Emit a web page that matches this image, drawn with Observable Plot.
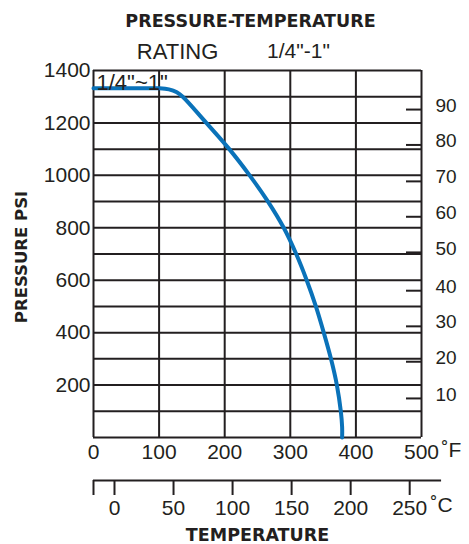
<!DOCTYPE html>
<html><head><meta charset="utf-8">
<script src="https://cdn.jsdelivr.net/npm/d3@7"></script>
<script src="https://cdn.jsdelivr.net/npm/@observablehq/plot@0.6"></script>
<style>body{margin:0;background:#fff}</style>
</head><body><div id="chart"></div>
<script>
// Rating curve (°F, psi)
const tempF       = [0,    50,   100,  115,  127,  136,  172,  207,  238,  266, 290, 309, 325, 339, 351, 362, 371, 377, 379, 379];
const pressurePsi = [1332, 1332, 1332, 1328, 1317, 1300, 1200, 1100, 1000, 900, 800, 700, 600, 500, 400, 300, 200, 100, 40,  0];

const psiGrid   = [0, 100, 200, 300, 400, 500, 600, 700, 800, 900, 1000, 1100, 1200, 1300, 1400];
const psiTicks  = [200, 400, 600, 800, 1000, 1200, 1400];
const fTicks    = [0, 100, 200, 300, 400, 500];
const barLabels = [10, 20, 30, 40, 50, 60, 70, 80, 90];
const barTickPsi = [149, 289, 424, 560, 706, 842, 977, 1116, 1251];
const celsiusTicks = [0, 50, 100, 150, 200, 250];
const celsiusEnds  = [-17.78, 277];

const ink = "#231f20";
const blue = "#0a72b9";
const cToF = c => c * 9 / 5 + 32;
const boldFont = "DejaVu Sans, sans-serif";

const chart = Plot.plot({
  width: 469, height: 544,
  marginLeft: 93, marginRight: 48, marginTop: 70, marginBottom: 107,
  x: {domain: [0, 500], label: null},
  y: {domain: [0, 1400], label: null},
  style: {fontFamily: "Liberation Sans, Arial, sans-serif", color: ink, background: "#fff"},
  marks: [
    Plot.ruleY(psiGrid, {stroke: ink, strokeWidth: 2}),
    Plot.ruleX(fTicks, {stroke: ink, strokeWidth: 2}),
    Plot.line(tempF.map((t, i) => ({t, p: pressurePsi[i]})), {x: "t", y: "p", stroke: blue, strokeWidth: 4, curve: "catmull-rom"}),
    Plot.axisY({ticks: psiTicks, tickSize: 0, tickPadding: 3, fontSize: 21, tickFormat: d => String(d)}),
    Plot.axisX({ticks: fTicks, tickSize: 0, tickPadding: 7, fontSize: 21, tickFormat: d => String(d)}),
    Plot.axisY({anchor: "right", ticks: barTickPsi, tickSize: 16, dx: -16, strokeWidth: 2, tickFormat: () => ""}),
    Plot.axisY({anchor: "right", ticks: barTickPsi, tickSize: 0, tickPadding: 14, dy: -4, fontSize: 19,
      tickFormat: d => String(barLabels[barTickPsi.indexOf(d)])}),
    // Celsius axis
    Plot.ruleY([0], {x1: cToF(celsiusEnds[0]), x2: cToF(celsiusEnds[1]), dy: 43, stroke: ink, strokeWidth: 2}),
    Plot.axisX({ticks: [cToF(celsiusEnds[0]), ...celsiusTicks.map(cToF)], tickSize: 15, dy: 43, tickPadding: 5,
      strokeWidth: 2, fontSize: 21,
      tickFormat: d => { const c = Math.round((d - 32) * 5 / 9); return celsiusTicks.includes(c) ? String(c) : ""; }}),
    Plot.text(["˚F"], {text: d => d, frameAnchor: "bottom-right", dx: 20, dy: 13, textAnchor: "start", lineAnchor: "middle", fontSize: 21}),
    Plot.text(["˚C"], {text: d => d, frameAnchor: "bottom-right", dx: 9, dy: 68, textAnchor: "start", lineAnchor: "middle", fontSize: 21}),
    // Titles and labels
    Plot.text(["PRESSURE-TEMPERATURE"], {text: d => d, frameAnchor: "top", dx: -7, dy: -49, textAnchor: "middle", lineAnchor: "middle", fontFamily: boldFont, fontWeight: "bold", fontSize: 17.5}),
    Plot.text(["RATING"], {text: d => d, frameAnchor: "top-left", dx: 84, dy: -19, textAnchor: "middle", lineAnchor: "middle", fontSize: 22}),
    Plot.text(['1/4"-1"'], {text: d => d, frameAnchor: "top-left", dx: 205, dy: -19, textAnchor: "middle", lineAnchor: "middle", fontSize: 21}),
    Plot.text(['1/4"~1"'], {text: d => d, frameAnchor: "top-left", dx: 3, dy: 12, textAnchor: "start", lineAnchor: "middle", fontSize: 22}),
    Plot.text(["TEMPERATURE"], {text: d => d, frameAnchor: "bottom", dy: 98, textAnchor: "middle", lineAnchor: "middle", fontFamily: boldFont, fontWeight: "bold", fontSize: 17.5}),
    Plot.text(["PRESSURE PSI"], {text: d => d, frameAnchor: "left", dx: -72, dy: 3, rotate: -90, textAnchor: "middle", lineAnchor: "middle", fontFamily: boldFont, fontWeight: "bold", fontSize: 16.5})
  ]
});
document.getElementById("chart").appendChild(chart);
</script>
</body></html>
